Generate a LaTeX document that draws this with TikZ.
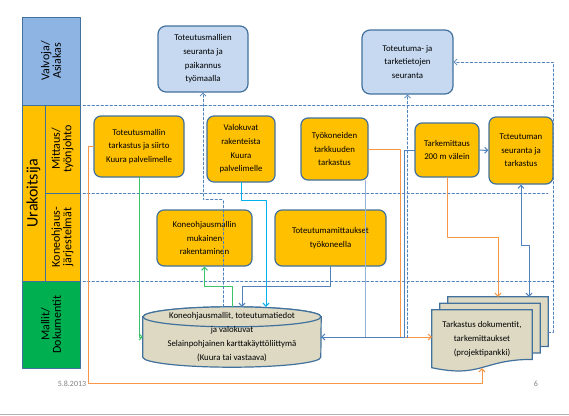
\documentclass[tikz,border=0pt]{standalone}
\usepackage{fontspec}
\setmainfont{Carlito}
\usetikzlibrary{arrows.meta,calc,backgrounds}
\definecolor{frameblue}{HTML}{41719C}
\definecolor{boxyellow}{HTML}{FFC000}
\definecolor{paleblue}{HTML}{C6D9F1}
\definecolor{sideblue}{HTML}{8EB4E3}
\definecolor{sidegreen}{HTML}{00B050}
\definecolor{dbbeige}{HTML}{DDD9C3}
\definecolor{lineorange}{HTML}{F79646}
\definecolor{lineblue}{HTML}{4F81BD}
\definecolor{linepale}{HTML}{95B3D7}
\definecolor{linecyan}{HTML}{00B0F0}
\definecolor{linegreen}{HTML}{3CC36A}
\newcommand{\docsheet}[1]{%
  \filldraw[docsheet] (#1.north west) -- (#1.north east) -- ($(#1.north east)+(0,-49.6)$)
    .. controls ($(#1.north)+(0,-49.6)$) and ($(#1.north)+(0,-68.6)$) .. ($(#1.north west)+(0,-57.9)$) -- cycle;}
\begin{document}
\begin{tikzpicture}[x=1pt,y=1pt,line cap=round,line join=round,
  >={Straight Barb[length=3pt,width=6pt]},
  side/.style={draw=frameblue,line width=1pt,rotate=90,inner sep=0pt,align=center,font=\fontsize{12}{11.5}\selectfont},
  task/.style={draw=frameblue,line width=1.2pt,fill=boxyellow,rounded corners=7pt,inner sep=1pt,align=center,font=\fontsize{8.8}{13.6}\selectfont},
  follow/.style={task,fill=paleblue,rounded corners=8pt},
  store/.style={inner sep=0pt,align=center,font=\fontsize{8.8}{14}\selectfont},
  docsheet/.style={draw=frameblue,line width=1.2pt,fill=dbbeige},
  lane/.style={lineblue,line width=0.8pt,dash pattern=on 2.5pt off 2pt},
  dasharrow/.style={lane,->},
  orangeline/.style={lineorange,line width=1pt,->},
  blueline/.style={lineblue,line width=1pt,->},
  paleline/.style={linepale,line width=1pt},
  cyanline/.style={linecyan,line width=1pt,->},
  greenline/.style={linegreen,line width=1pt,->},
  foot/.style={text=gray,font=\fontsize{8}{9}\selectfont,inner sep=0pt}]
\useasboundingbox (0,0) rectangle (569,-415);
% vasen sarake
\node[side,fill=sideblue,minimum width=88,minimum height=58] (valvoja) at (51,-61) {Valvoja/\\Asiakas};
\node[side,fill=boxyellow,minimum width=176,minimum height=23,font=\fontsize{16}{18}\selectfont] (urakoitsija) at (33.5,-193) {Urakoitsija};
\node[side,fill=boxyellow,minimum width=88,minimum height=35] (mittaus) at (62.5,-149) {Mittaus/\\työnjohto};
\node[side,fill=boxyellow,minimum width=88,minimum height=35] (koneohjaus) at (62.5,-237) {Koneohjaus-\\järjestelmät};
\node[side,fill=sidegreen,minimum width=87,minimum height=58] (mallit) at (51,-324.5) {Mallit/\\Dokumentit};
\draw[lane] (83,-105) -- (553,-105);
\draw[lane] (83,-193) -- (548,-193);
\draw[lane] (83,-281) -- (553,-281);
% laatikot
\node[follow,minimum width=90,minimum height=66] (seuranta1) at (203,-59) {Toteutusmallien\\seuranta ja\\paikannus\\työmaalla};
\node[follow,minimum width=91,minimum height=64] (seuranta2) at (407.5,-62) {Toteutuma- ja\\tarketietojen\\seuranta};
\node[task,minimum width=90,minimum height=61] (tmSiirto) at (139,-146.5) {Toteutusmallin\\tarkastus ja siirto\\Kuura palvelimelle};
\node[task,minimum width=68,minimum height=66] (valokuvat) at (241,-149) {Valokuvat\\rakenteista\\Kuura\\palvelimelle};
\node[task,minimum width=67,minimum height=62] (tyokoneet) at (334.5,-149) {Työkoneiden\\tarkkuuden\\tarkastus};
\node[task,minimum width=64,minimum height=54] (tarkemittaus) at (447,-150) {Tarkemittaus\\200 m välein};
\node[task,minimum width=64,minimum height=67] (totSeuranta) at (521,-150.5) {Tcteutuman\\seuranta ja\\tarkastus};
\node[task,minimum width=95,minimum height=56] (koneRak) at (204.5,-238) {Koneohjausmallin\\mukainen\\rakentaminen};
\node[task,minimum width=111,minimum height=56] (totMitt) at (330.5,-238) {Toteutumamittaukset\\työkoneella};
% tietokanta ja dokumentit
\node[store,minimum width=178,minimum height=60] (kuura) at (232,-337) {Koneohjausmallit, toteutumatiedot\\ja valokuvat\\Selainpohjainen karttakäyttöliittymä\\(Kuura tai vastaava)};
\node[store,minimum width=100,minimum height=58] (docs1) at (498,-326) {};
\node[store,minimum width=100,minimum height=58] (docs2) at (490,-332.5) {};
\node[store,minimum width=100,minimum height=58] (docs3) at (482,-339) {Tarkastus dokumentit,\\tarkemittaukset\\(projektipankki)};
\begin{pgfonlayer}{background}
\filldraw[docsheet] ([yshift=-10pt]kuura.north west) -- ([yshift=10pt]kuura.south west)
  arc[start angle=180,end angle=360,x radius=89pt,y radius=10pt] -- ([yshift=-10pt]kuura.north east)
  arc[start angle=0,end angle=180,x radius=89pt,y radius=10pt] -- cycle;
\draw[docsheet] ([yshift=-10pt]kuura.north) ellipse[x radius=89pt,y radius=10pt];
\docsheet{docs1}
\docsheet{docs2}
\docsheet{docs3}
\end{pgfonlayer}
% yhteydet
\draw[greenline] (tmSiirto.south) |- (kuura.west);
\draw[orangeline] (tmSiirto.west) -- ++(-5,0) -- ++(0,-237) -| (docs3.south);
\draw[cyanline] (valokuvat.south) -- ++(0,-18) -| ([xshift=34pt]kuura.north);
\draw[blueline] (totMitt.south) -- ++(0,-20) -| ([xshift=10pt]kuura.north);
\draw[greenline] (kuura.north) -- ++(0,20) -| (koneRak.south);
\draw[dasharrow] ([xshift=-9pt]kuura.north) -- ++(0,107) -| (seuranta1.south);
\draw[paleline] ([xshift=-3pt]tyokoneet.south east) |- (kuura.east);
\draw[orangeline] (tyokoneet.east) -- ++(32,0) |- ([yshift=2pt]docs3.west);
\draw[blueline] (tarkemittaus.west) -- ++(-10,0) |- (kuura.east);
\draw[dasharrow] (kuura.east) -| (seuranta2.south);
\draw[blueline] (tarkemittaus) -- (totSeuranta);
\draw[blueline,<->] (totSeuranta.south) -- ++(0,-61) -| ([xshift=31pt]docs1.north);
\draw[orangeline] (tarkemittaus.south) -- ++(0,-60) -| (docs1.north);
\draw[dasharrow] ([yshift=-6pt]docs1.east) -- ++(5,0) |- (seuranta2.east);
% alaosa
\node[foot] (datum) at (72,-384) {5.8.2013};
\node[foot] (sivu) at (536,-384) {6};
\draw[gray!60,line width=1pt] (0,-414) -- (569,-414);
\end{tikzpicture}
\end{document}
